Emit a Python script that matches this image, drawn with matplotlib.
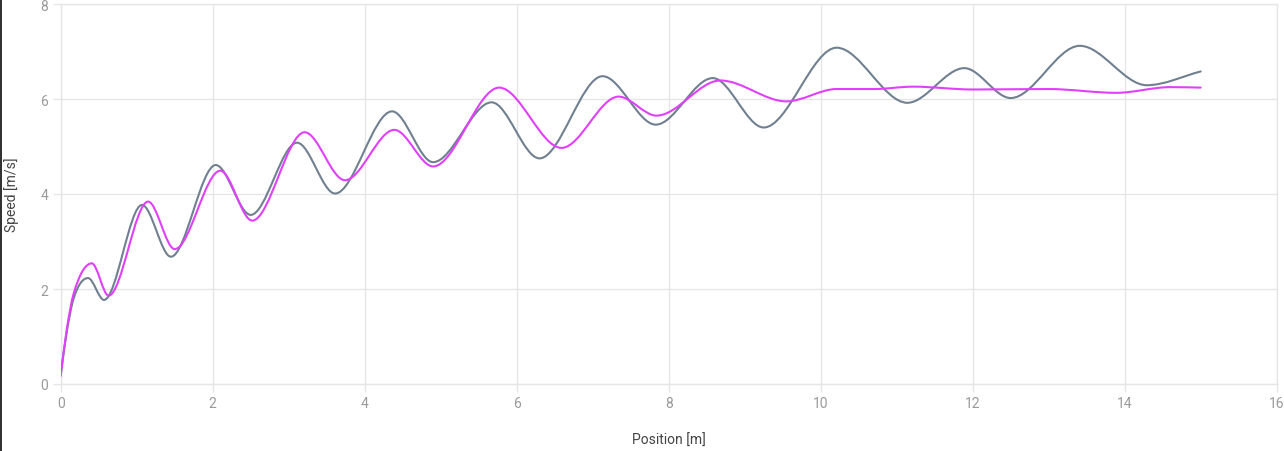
import numpy as np
import matplotlib
matplotlib.use("Agg")
import matplotlib.pyplot as plt
from matplotlib.path import Path
import matplotlib.patches as mpatches

# Data (position [m], speed [m/s])
gray_x = [0.0, 0.08, 0.17, 0.36, 0.57, 1.07, 1.45, 2.04, 2.50, 3.11, 3.61,
          4.36, 4.90, 5.67, 6.30, 7.13, 7.83, 8.58, 9.25, 10.21, 11.14,
          11.89, 12.50, 13.41, 14.29, 15.0]
gray_y = [0.21, 1.1, 1.8, 2.23, 1.77, 3.77, 2.68, 4.61, 3.56, 5.08, 4.01,
          5.74, 4.67, 5.93, 4.75, 6.48, 5.46, 6.44, 5.40, 7.08, 5.92,
          6.65, 6.02, 7.12, 6.29, 6.58]

pink_x = [0.0, 0.08, 0.17, 0.41, 0.63, 1.15, 1.50, 2.10, 2.52, 3.21, 3.74,
          4.39, 4.90, 5.77, 6.59, 7.34, 7.84, 8.68, 9.55, 10.21, 10.7, 11.22,
          12.0, 13.0, 13.89, 14.6, 15.0]
pink_y = [0.17, 1.15, 1.9, 2.54, 1.86, 3.84, 2.84, 4.49, 3.44, 5.30, 4.29,
          5.35, 4.58, 6.24, 4.97, 6.05, 5.65, 6.39, 5.95, 6.21, 6.21, 6.26,
          6.20, 6.21, 6.13, 6.25, 6.24]

x_ticks = [0, 2, 4, 6, 8, 10, 12, 14, 16]
y_ticks = [0, 2, 4, 6, 8]

GRAY = '#708090'
PINK = '#e040fb'
GRID = '#e6e6e6'
TICK_TEXT = '#9a9a9a'


def monotone_path(xs, ys):
    """Bezier path through the points, monotone cubic like Chart.js."""
    x = np.asarray(xs, float)
    y = np.asarray(ys, float)
    n = len(x)
    dx = np.diff(x)
    d = np.diff(y) / dx
    m = np.zeros(n)
    m[0], m[-1] = d[0], d[-1]
    for i in range(1, n - 1):
        m[i] = 0.0 if d[i - 1] * d[i] <= 0 else (d[i - 1] + d[i]) / 2
    for i in range(n - 1):
        if d[i] == 0:
            m[i] = m[i + 1] = 0.0
            continue
        a, b = m[i] / d[i], m[i + 1] / d[i]
        s = a * a + b * b
        if s > 9:
            t = 3 / np.sqrt(s)
            m[i], m[i + 1] = t * a * d[i], t * b * d[i]
    verts = [(x[0], y[0])]
    codes = [Path.MOVETO]
    for i in range(n - 1):
        h = dx[i] / 3
        verts += [(x[i] + h, y[i] + m[i] * h),
                  (x[i + 1] - h, y[i + 1] - m[i + 1] * h),
                  (x[i + 1], y[i + 1])]
        codes += [Path.CURVE4] * 3
    return Path(verts, codes)


plt.rcParams['font.family'] = ['Roboto', 'DejaVu Sans']

fig = plt.figure(figsize=(12.84, 4.52), dpi=100)
ax = fig.add_axes([60.7 / 1284, 67 / 452, 1216 / 1284, 380 / 452])

for xs, ys, col in [(gray_x, gray_y, GRAY), (pink_x, pink_y, PINK)]:
    ax.add_patch(mpatches.PathPatch(monotone_path(xs, ys), facecolor='none',
                                    edgecolor=col, linewidth=1.5,
                                    capstyle='round', joinstyle='round', zorder=3))

ax.set_xlim(0, 16)
ax.set_ylim(0, 8)
ax.set_xticks(x_ticks)
ax.set_yticks(y_ticks)
ax.grid(True, color=GRID, linewidth=1)
for s in ax.spines.values():
    s.set_color(GRID)
    s.set_linewidth(1)
ax.tick_params(colors=GRID, labelcolor=TICK_TEXT, labelsize=10, length=6, width=1,
               pad=3)
ax.set_xlabel('Position [m]', fontsize=10, color='#444444', labelpad=16)
ax.set_ylabel('Speed [m/s]', fontsize=10, color='#444444', labelpad=15)

# thin dark strip on the left edge of the screenshot
fig.patches.append(mpatches.Rectangle((0, 0), 2 / 1284, 1, transform=fig.transFigure,
                                      facecolor='#333333', edgecolor='none'))

fig.savefig('out.png', dpi=100, facecolor='white')
